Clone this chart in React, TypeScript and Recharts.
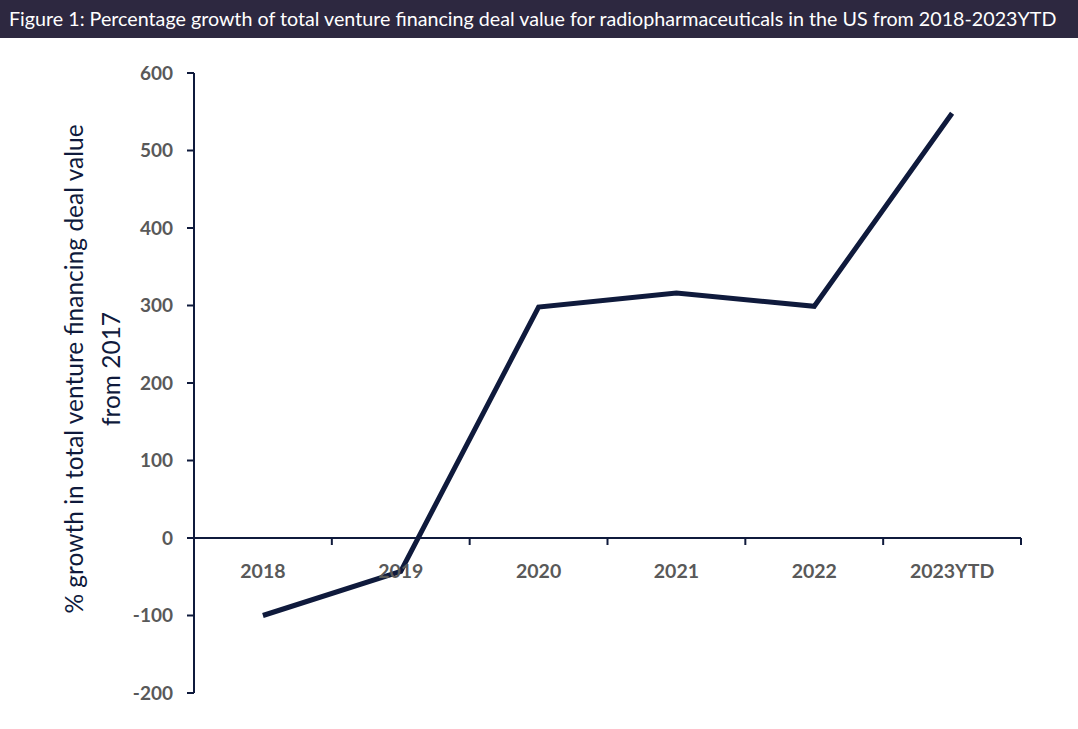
import React from "react";
import { LineChart, Line, XAxis, YAxis, ReferenceLine } from "recharts";

const years = ["2018", "2019", "2020", "2021", "2022", "2023YTD"];
const growth = [-100, -43, 298, 316, 299, 548];
const yTicks = [-200, -100, 0, 100, 200, 300, 400, 500, 600];

const data = years.map((year, i) => ({ year, growth: growth[i] }));

const navy = "#0f1a3c";
const grey = "#595959";
const font = "Lato, 'Open Sans', sans-serif";

const W = 1078;
const H = 691;
const margin = { top: 35, right: 57, bottom: 6, left: 114 };
const xAxisHeight = 30;
const yAxisWidth = 80;
const plotW = W - margin.left - margin.right - yAxisWidth;
const plotH = H - margin.top - margin.bottom - xAxisHeight;
const yMin = -200;
const yMax = 600;
const zeroY = margin.top + (plotH * (yMax - 0)) / (yMax - yMin);
const band = plotW / years.length;

function XTick(props: any) {
  const { x, payload, index } = props;
  return (
    <g>
      <line x1={x - band / 2} x2={x - band / 2} y1={zeroY} y2={zeroY + 7} stroke={navy} strokeWidth={2} />
      {index === years.length - 1 && (
        <line x1={x + band / 2} x2={x + band / 2} y1={zeroY} y2={zeroY + 7} stroke={navy} strokeWidth={2} />
      )}
      <text x={x} y={zeroY + 40} textAnchor="middle" fill={grey} fontSize={19.5} fontWeight="bold" fontFamily={font}>
        {payload.value}
      </text>
    </g>
  );
}

function YLabel() {
  const cy = 331;
  return (
    <g>
      <text transform={`translate(83, ${cy}) rotate(-90)`} textAnchor="middle" fill={navy} fontSize={24.5} fontFamily={font}>
        % growth in total venture financing deal value
      </text>
      <text transform={`translate(120, ${cy}) rotate(-90)`} textAnchor="middle" fill={navy} fontSize={24.5} fontFamily={font}>
        from 2017
      </text>
    </g>
  );
}

export default function App() {
  return (
    <div style={{ position: "absolute", left: 0, top: 0, width: W, height: 729, background: "#fff" }}>
      <div
        style={{
          height: 38,
          background: "#2d2840",
          color: "#fff",
          fontFamily: font,
          fontSize: 19.7,
          lineHeight: "38px",
          paddingLeft: 9,
          whiteSpace: "nowrap",
        }}
      >
        Figure 1: Percentage growth of total venture financing deal value for radiopharmaceuticals in the US from 2018-2023YTD
      </div>
      <LineChart width={W} height={H} data={data} margin={margin}>
        <ReferenceLine y={0} stroke={navy} strokeWidth={2} />
        <XAxis
          dataKey="year"
          scale="band"
          height={xAxisHeight}
          axisLine={false}
          tickLine={false}
          interval={0}
          tick={<XTick />}
        />
        <YAxis
          domain={[yMin, yMax]}
          ticks={yTicks}
          width={yAxisWidth}
          axisLine={{ stroke: navy, strokeWidth: 2 }}
          tickLine={{ stroke: navy, strokeWidth: 2 }}
          tickSize={7}
          tickMargin={14}
          tick={{ fill: grey, fontSize: 19, fontWeight: "bold", fontFamily: font }}
          label={<YLabel />}
        />
        <Line
          type="linear"
          dataKey="growth"
          stroke={navy}
          strokeWidth={5}
          dot={false}
          isAnimationActive={false}
        />
      </LineChart>
    </div>
  );
}
